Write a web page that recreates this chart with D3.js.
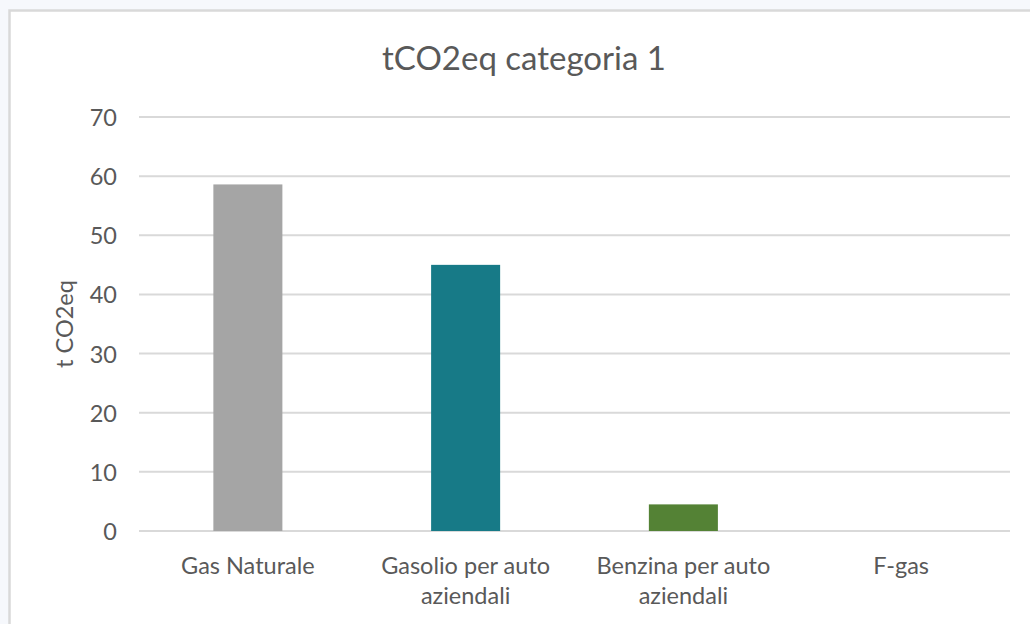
<!DOCTYPE html>
<html>
<head>
<meta charset="utf-8">
<script src="https://cdn.jsdelivr.net/npm/d3@7"></script>
<style>
  body { margin: 0; background: #f6f8fc; }
  svg { display: block; }
  text { font-family: Lato, "Open Sans", sans-serif; fill: #595959; }
</style>
</head>
<body>
<div id="chart"></div>
<script>
// data
var categories = ["Gas Naturale", "Gasolio per auto aziendali", "Benzina per auto aziendali", "F-gas"];
var values = [58.6, 45.0, 4.5, 0];
var barColors = ["#a5a5a5", "#177a87", "#548235", "#a5a5a5"];
var yTicks = [0, 10, 20, 30, 40, 50, 60, 70];

var W = 1030, H = 624;

var svg = d3.select("#chart").append("svg")
    .attr("width", W)
    .attr("height", H);

// chart frame (runs off the right and bottom edges)
svg.append("rect")
    .attr("x", 9.5).attr("y", 10.5)
    .attr("width", 1040).attr("height", 640)
    .attr("fill", "#ffffff")
    .attr("stroke", "#d9d9d9")
    .attr("stroke-width", 2.5);

var x = d3.scaleBand()
    .domain(categories)
    .range([139, 1010])
    .paddingInner(0.683)
    .paddingOuter(0.683 / 2);

var y = d3.scaleLinear()
    .domain([0, 70])
    .range([531, 117]);

// gridlines
svg.append("g").selectAll("line")
    .data(yTicks)
    .enter().append("line")
    .attr("x1", 139).attr("x2", 1010)
    .attr("y1", d => y(d)).attr("y2", d => y(d))
    .attr("stroke", "#d9d9d9")
    .attr("stroke-width", 2);

// y tick labels
svg.append("g").selectAll("text")
    .data(yTicks)
    .enter().append("text")
    .attr("x", 117)
    .attr("y", d => y(d) + 9)
    .attr("text-anchor", "end")
    .style("font-size", "23.5px")
    .text(d => d);

// bars
svg.append("g").selectAll("rect")
    .data(values)
    .enter().append("rect")
    .attr("x", (d, i) => x(categories[i]))
    .attr("width", x.bandwidth())
    .attr("y", d => y(d))
    .attr("height", d => y(0) - y(d))
    .attr("fill", (d, i) => barColors[i]);

// category labels, wrapped like excel does
var catG = svg.append("g");
categories.forEach(function(c) {
  var t = catG.append("text")
      .attr("text-anchor", "middle")
      .style("font-size", "23.5px");
  var cx = x(c) + x.bandwidth() / 2;
  var words = c.split(" "), line = [], lines = [];
  var probe = t.append("tspan");
  words.forEach(function(w) {
    line.push(w);
    probe.text(line.join(" "));
    if (probe.node().getComputedTextLength() > 205 && line.length > 1) {
      line.pop();
      lines.push(line.join(" "));
      line = [w];
    }
  });
  lines.push(line.join(" "));
  probe.remove();
  lines.forEach(function(l, i) {
    t.append("tspan")
      .attr("x", cx)
      .attr("y", 574 + i * 30)
      .text(l);
  });
});

// axis title
svg.append("text")
    .attr("transform", "translate(73,324) rotate(-90)")
    .attr("text-anchor", "middle")
    .style("font-size", "23.5px")
    .text("t CO2eq");

// chart title
svg.append("text")
    .attr("x", 524)
    .attr("y", 70)
    .attr("text-anchor", "middle")
    .style("font-size", "33px")
    .text("tCO2eq categoria 1");
</script>
</body>
</html>
